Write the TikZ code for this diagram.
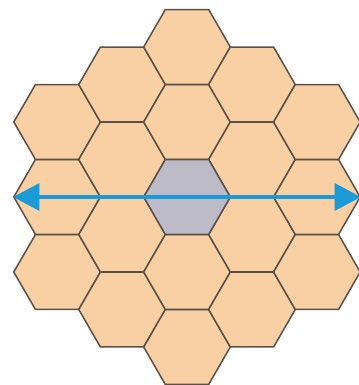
\documentclass[tikz,border=0pt]{standalone}
\usetikzlibrary{shapes.geometric,arrows.meta}

\definecolor{hexfill}{HTML}{F8D0A3}
\definecolor{hexgrey}{HTML}{BDBBC8}
\definecolor{hexline}{HTML}{5A5048}
\definecolor{arrowblue}{HTML}{1A9BD7}

\begin{document}
\begin{tikzpicture}[x = 0.02cm, y = 0.02cm,
  hex/.style = {regular polygon, regular polygon sides=6,
    minimum size=1.732cm, inner sep=0pt,
    draw=hexline, line width=0.85pt, fill=hexfill},
  widearrow/.style = {{Triangle[length=15pt,width=15pt]}-{Triangle[length=15pt,width=15pt]},
    line width=2.8pt, color=arrowblue}]

  % hexagon spacing (radius 43.3)
  \def\hexdx{64.95}
  \def\hexdy{75}

  \useasboundingbox (-187,-188) rectangle (171,197);

  % outer cells
  \foreach \q in {-2,...,2}
  \foreach \r in {-2,...,2}
  {
  \pgfmathtruncatemacro\s{abs(\q+\r)}
  \pgfmathtruncatemacro\c{abs(\q)+abs(\r)}
  \ifnum\s<3 \ifnum\c>0
  \node[hex] (hex\q\r) at ({\hexdx*\q},{\hexdy*(\r+\q/2)}) {};
  \fi\fi
  }

  % centre cell
  \node[hex, fill=hexgrey] (hex00) at (0,0) {};

  % double arrow
  \draw[widearrow] (hex-21.west) -- (hex2-1.east);

\end{tikzpicture}
\end{document}
